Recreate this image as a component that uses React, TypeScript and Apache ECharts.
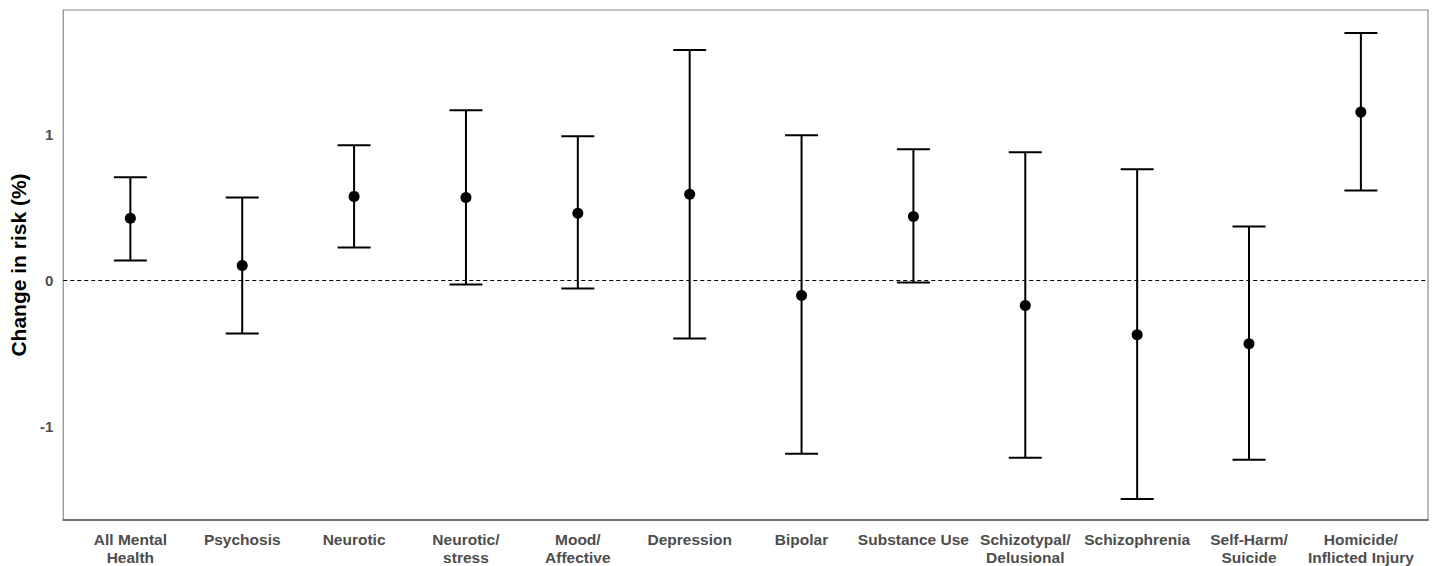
import React, { useEffect, useRef } from "react";
import * as echarts from "echarts";

// Outcome categories along the x axis
const categories = [
  "All Mental\nHealth",
  "Psychosis",
  "Neurotic",
  "Neurotic/\nstress",
  "Mood/\nAffective",
  "Depression",
  "Bipolar",
  "Substance Use",
  "Schizotypal/\nDelusional",
  "Schizophrenia",
  "Self-Harm/\nSuicide",
  "Homicide/\nInflicted Injury",
];

// Point estimates and confidence bounds (change in risk, %)
const estimates = [0.425, 0.103, 0.575, 0.568, 0.459, 0.589, -0.103, 0.438, -0.171, -0.37, -0.432, 1.151];
const lowerBounds = [0.137, -0.363, 0.226, -0.027, -0.055, -0.397, -1.185, -0.014, -1.212, -1.493, -1.226, 0.616];
const upperBounds = [0.705, 0.568, 0.925, 1.164, 0.986, 1.575, 0.993, 0.897, 0.877, 0.76, 0.37, 1.692];

const yTicks = [-1, 0, 1];

export default function App() {
  const ref = useRef<HTMLDivElement>(null);

  useEffect(() => {
    if (!ref.current) return;
    const chart = echarts.init(ref.current, null, { renderer: "svg" });
    const positions = categories.map((_, i) => i + 1);

    const errorData = positions.map((p, i) => [p, lowerBounds[i], upperBounds[i]]);
    const pointData = positions.map((p, i) => [p, estimates[i]]);

    chart.setOption({
      animation: false,
      backgroundColor: "#ffffff",
      grid: {
        left: 60,
        right: 8,
        top: 10,
        bottom: 45,
        show: true,
        borderColor: "#8a8a8a",
        borderWidth: 1.2,
      },
      xAxis: {
        type: "value",
        min: 0.4,
        max: 12.6,
        splitLine: { show: false },
        axisLine: { show: true, onZero: false, lineStyle: { color: "#5a5a5a", width: 1.5 } },
        axisTick: { show: false },
        axisLabel: {
          customValues: positions,
          formatter: (v: number) => categories[Math.round(v) - 1] ?? "",
          color: "#4d4d4d",
          fontWeight: "bold",
          fontSize: 15.5,
          fontFamily: "Liberation Sans, Arial, sans-serif",
          lineHeight: 18,
          margin: 10,
        },
      },
      yAxis: {
        type: "value",
        min: -1.637,
        max: 1.849,
        name: "Change in risk (%)",
        nameLocation: "middle",
        nameGap: 28,
        nameTextStyle: {
          color: "#000000",
          fontWeight: "bold",
          fontSize: 21,
          fontFamily: "Liberation Sans, Arial, sans-serif",
        },
        splitLine: { show: false },
        axisLine: { show: false },
        axisTick: { show: false },
        axisLabel: {
          customValues: yTicks,
          formatter: (v: number) => String(v),
          color: "#4d4d4d",
          fontWeight: "bold",
          fontSize: 15,
          fontFamily: "Liberation Sans, Arial, sans-serif",
          margin: 10,
        },
      },
      series: [
        {
          type: "custom",
          data: errorData,
          encode: { x: 0, y: [1, 2] },
          renderItem: (params: any, api: any) => {
            const x = api.value(0);
            const lo = api.coord([x, api.value(1)]);
            const hi = api.coord([x, api.value(2)]);
            const half = 16.5;
            const style = { stroke: "#000000", lineWidth: 2, fill: "none" };
            return {
              type: "group",
              children: [
                { type: "line", shape: { x1: lo[0], y1: lo[1], x2: hi[0], y2: hi[1] }, style },
                { type: "line", shape: { x1: hi[0] - half, y1: hi[1], x2: hi[0] + half, y2: hi[1] }, style },
                { type: "line", shape: { x1: lo[0] - half, y1: lo[1], x2: lo[0] + half, y2: lo[1] }, style },
              ],
            };
          },
          markLine: {
            silent: true,
            symbol: "none",
            label: { show: false },
            lineStyle: { color: "#000000", type: [4, 3], width: 1, opacity: 1 },
            data: [{ yAxis: 0 }],
          },
          z: 2,
        },
        {
          type: "scatter",
          data: pointData,
          symbol: "circle",
          symbolSize: 11,
          itemStyle: { color: "#000000", opacity: 1 },
          z: 3,
        },
      ],
    });

    return () => chart.dispose();
  }, []);

  return (
    <div
      ref={ref}
      style={{ position: "fixed", left: 0, top: 0, width: 1436, height: 566, background: "#fff" }}
    />
  );
}
